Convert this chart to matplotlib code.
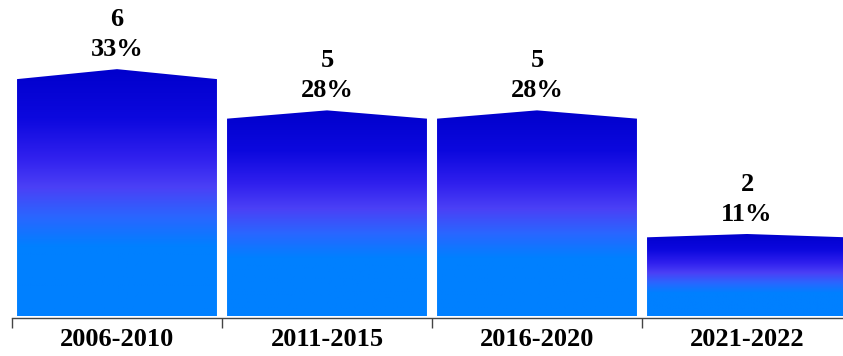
import numpy as np
import matplotlib
matplotlib.use("Agg")
import matplotlib.pyplot as plt
from matplotlib.colors import LinearSegmentedColormap
from matplotlib.patches import Polygon

periods = ["2006-2010", "2011-2015", "2016-2020", "2021-2022"]
counts = [6, 5, 5, 2]
shares = ["33%", "28%", "28%", "11%"]

plt.rcParams["font.family"] = ["Liberation Serif", "DejaVu Serif"]

fig = plt.figure(figsize=(8.43, 3.56), dpi=100)
ax = fig.add_axes([12 / 843, 38 / 356, 840 / 843, 318 / 356])

# vertical gradient: dark blue at the top, violet in the middle, azure at the base
cmap = LinearSegmentedColormap.from_list(
    "bar_grad",
    [(0.0, "#0080FF"), (0.28, "#0080FF"), (0.40, "#2A66FF"),
     (0.52, "#4B40F6"), (0.64, "#3020EE"), (0.80, "#0C08DE"), (1.0, "#0000CC")],
)
grad = np.linspace(0, 1, 256).reshape(-1, 1)

width = 0.952
for i, v in enumerate(counts):
    x0, x1 = i - width / 2, i + width / 2
    peak = v + 0.042 * v
    verts = [(x0, 0), (x0, v), (i, peak), (x1, v), (x1, 0)]
    poly = Polygon(verts, closed=True, facecolor="none", edgecolor="none")
    ax.add_patch(poly)
    im = ax.imshow(grad, cmap=cmap, aspect="auto", origin="lower",
                   extent=[x0, x1, 0, peak], interpolation="bilinear", zorder=2)
    im.set_clip_path(poly)
    ax.text(i, peak + 0.2, f"{v}\n{shares[i]}", ha="center", va="bottom",
            fontsize=19, fontweight="bold", linespacing=1.42, zorder=3)

ax.set_xlim(-0.5, len(periods) - 0.5)
ax.set_ylim(-0.04, 8.0)

for side in ("top", "right", "left"):
    ax.spines[side].set_visible(False)
ax.spines["bottom"].set_color("#444444")
ax.spines["bottom"].set_linewidth(1.0)
ax.spines["bottom"].set_position(("data", -0.04))

ax.set_yticks([])
ax.set_xticks(np.arange(-0.5, len(periods) + 0.5, 1.0))
ax.set_xticklabels([])
ax.tick_params(axis="x", which="major", length=7, color="#444444", width=1)
ax.set_xticks(np.arange(len(periods)), minor=True)
ax.set_xticklabels(periods, minor=True, fontsize=19, fontweight="bold")
ax.tick_params(axis="x", which="minor", length=0, pad=7)

fig.savefig("out.png", dpi=100)
